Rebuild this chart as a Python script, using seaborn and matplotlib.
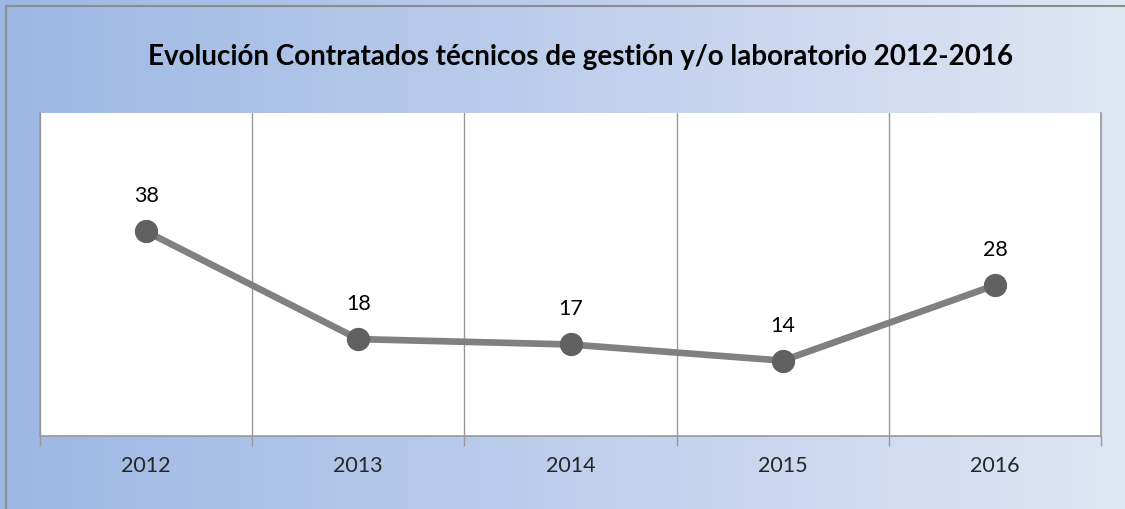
import numpy as np
import pandas as pd
import seaborn as sns
import matplotlib.pyplot as plt
from matplotlib.patches import Rectangle

years = ['2012', '2013', '2014', '2015', '2016']
contratados = [38, 18, 17, 14, 28]
titulo = 'Evolución Contratados técnicos de gestión y/o laboratorio 2012-2016'

df = pd.DataFrame({'anio': years, 'valor': contratados})

sns.set_style('white')
plt.rcParams['font.family'] = ['Lato', 'DejaVu Sans']

fig = plt.figure(figsize=(11.25, 5.1), dpi=100)

# gradient background
bg = fig.add_axes([0, 0, 1, 1], zorder=0)
grad = np.linspace(0, 1, 256).reshape(1, -1)
c0 = np.array([157, 183, 228]) / 255
c1 = np.array([223, 230, 244]) / 255
img = c0[None, None, :] * (1 - grad[..., None]) + c1[None, None, :] * grad[..., None]
bg.imshow(img, aspect='auto', extent=[0, 1, 0, 1])
bg.set_xlim(0, 1)
bg.set_ylim(0, 1)
bg.axis('off')
fig.patches.append(Rectangle((6 / 1125, -0.05), 1.2, (510 - 7) / 510 + 0.05,
                             transform=fig.transFigure, fill=False,
                             edgecolor='#8c8c8c', linewidth=1.5, zorder=1))

ax = fig.add_axes([40 / 1125, 73 / 510, 1061 / 1125, 323 / 510], zorder=2)
ax.set_facecolor('white')
sns.lineplot(data=df, x='anio', y='valor', ax=ax, color='#808080',
             linewidth=4.8, marker='o', markersize=16,
             markerfacecolor='#606060', markeredgecolor='#606060', zorder=3)

for i, v in enumerate(contratados):
    ax.annotate(str(v), (i, v), xytext=(0, 26), textcoords='offset points',
                ha='center', va='center', fontsize=15.5, color='black')

ax.set_xlim(-0.5, 4.5)
ax.set_ylim(0, 60)
ax.set_yticks([])
ax.set_xticks(range(5))
ax.set_xticklabels(years, fontsize=15.5)
ax.set_xticks(np.arange(-0.5, 5, 1), minor=True)
ax.tick_params(axis='x', which='major', length=0, pad=14)
ax.tick_params(axis='x', which='minor', length=7, width=1, color='#999999',
               direction='out', bottom=True)
ax.grid(True, which='minor', axis='x', color='#999999', linewidth=1)
ax.set_xlabel('')
ax.set_ylabel('')
for side in ['left', 'right', 'bottom']:
    ax.spines[side].set_color('#999999')
    ax.spines[side].set_linewidth(1.2)
ax.spines['top'].set_visible(False)

fig.text(580 / 1125, 1 - 57 / 510, titulo, ha='center', va='center',
         fontsize=20, fontweight='bold', color='black')

fig.savefig('out.png', dpi=100)
